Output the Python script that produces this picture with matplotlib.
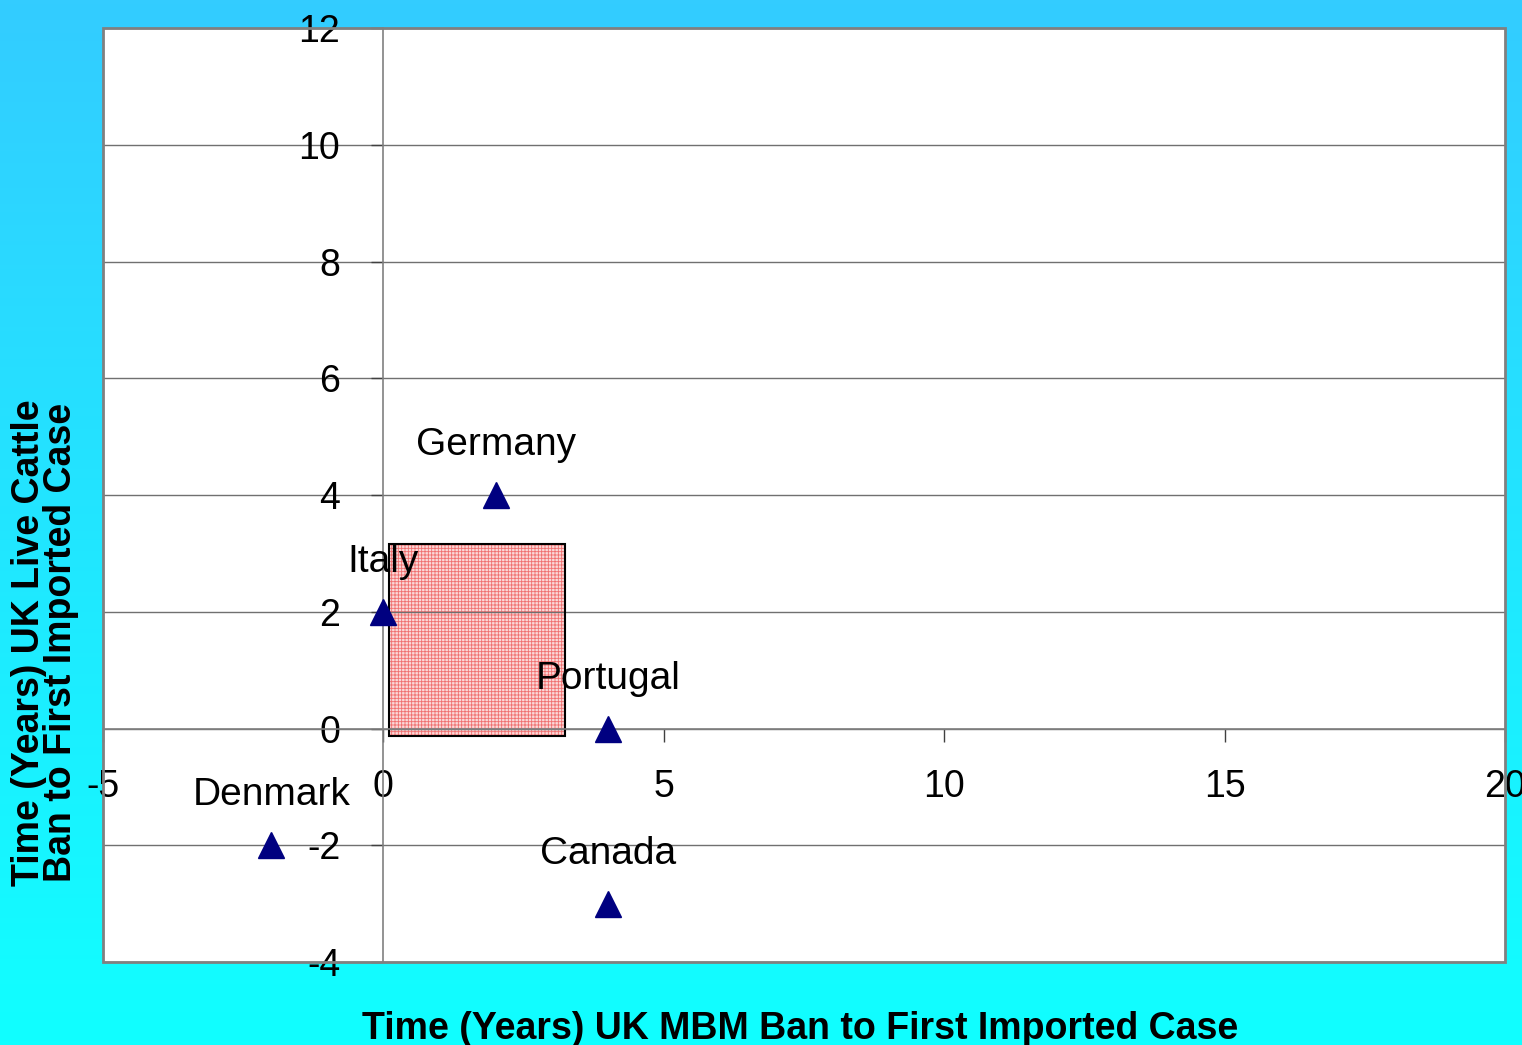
import numpy as np
import matplotlib
matplotlib.use('Agg')
import matplotlib.pyplot as plt
from matplotlib.patches import Rectangle

# data
countries = ['Germany', 'Italy', 'Portugal', 'Denmark', 'Canada']
mbm_ban = [2, 0, 4, -2, 4]        # x: UK MBM ban to first imported case
live_ban = [4, 2, 0, -2, -3]      # y: UK live cattle ban to first imported case
x_ticks = [-5, 0, 5, 10, 15, 20]
y_ticks = [-4, -2, 0, 2, 4, 6, 8, 10, 12]
# shaded window (years)
box_x = [0.1, 3.24]
box_y = [-0.13, 3.16]

narrow = ['Liberation Sans Narrow', 'Liberation Sans', 'DejaVu Sans']
plain = ['Liberation Sans', 'DejaVu Sans']
plt.rcParams['font.family'] = plain
plt.rcParams['hatch.linewidth'] = 0.6

fig = plt.figure(figsize=(15.22, 10.45), dpi=100)

# cyan gradient background
bg = fig.add_axes([0, 0, 1, 1], zorder=-10)
top = np.array([0x33, 0xcc, 0xff]) / 255
bot = np.array([0x10, 0xff, 0xff]) / 255
t = np.linspace(0, 1, 256)[:, None]
grad = top[None, :] * (1 - t) + bot[None, :] * t
bg.imshow(grad[:, None, :], aspect='auto', extent=[0, 1, 0, 1], origin='upper')
bg.axis('off')

ax = fig.add_axes([0.0677, 0.0794, 0.9211, 0.8938])
ax.set_facecolor('white')
ax.set_xlim(-5, 20)
ax.set_ylim(-4, 12)

# spines cross at zero
for s in ['top', 'right']:
    ax.spines[s].set_visible(False)
ax.spines['left'].set_position(('data', 0))
ax.spines['bottom'].set_position(('data', 0))
for s in ['left', 'bottom']:
    ax.spines[s].set_color('#808080')
    ax.spines[s].set_linewidth(1.2)

# outer grey frame
ax.add_patch(Rectangle((0, 0), 1, 1, transform=ax.transAxes, fill=False,
                       edgecolor='#808080', lw=2, clip_on=False, zorder=5))

ax.set_xticks(x_ticks)
ax.set_yticks(y_ticks)
ax.set_xticklabels([str(v) for v in x_ticks], family=narrow, fontsize=27)
ax.set_yticklabels([str(v) for v in y_ticks], family=narrow, fontsize=27)
ax.tick_params(axis='x', direction='out', length=9, width=1, color='#404040', pad=20)
ax.tick_params(axis='y', direction='out', length=9, width=1, color='#404040', pad=22)

ax.set_axisbelow(True)
ax.yaxis.grid(True, color='#707070', lw=1)

# pink hatched box
ax.add_patch(Rectangle((box_x[0], box_y[0]), box_x[1] - box_x[0], box_y[1] - box_y[0],
                       facecolor='#fbd8d8', edgecolor='#f07070', hatch='+++++', lw=0, zorder=0.3))
ax.add_patch(Rectangle((box_x[0], box_y[0]), box_x[1] - box_x[0], box_y[1] - box_y[0],
                       fill=False, edgecolor='black', lw=1.5, zorder=0.6))

ax.plot(mbm_ban, live_ban, linestyle='none', marker='^', markersize=19,
        color='#000080', zorder=4, clip_on=False)

for name, x, y in zip(countries, mbm_ban, live_ban):
    ax.annotate(name, (x, y), xytext=(0, 36), textcoords='offset points',
                ha='center', va='center', fontsize=28, family=plain, zorder=6)

fig.text(0.5256, 0.006, 'Time (Years) UK MBM Ban to First Imported Case',
         ha='center', va='baseline', fontsize=27, fontweight='bold')
fig.text(0.0296, 0.385, 'Time (Years) UK Live Cattle\nBan to First Imported Case',
         ha='center', va='center', rotation=90, fontsize=27, fontweight='bold',
         linespacing=0.85, multialignment='center')

fig.savefig('out.png', dpi=100)
